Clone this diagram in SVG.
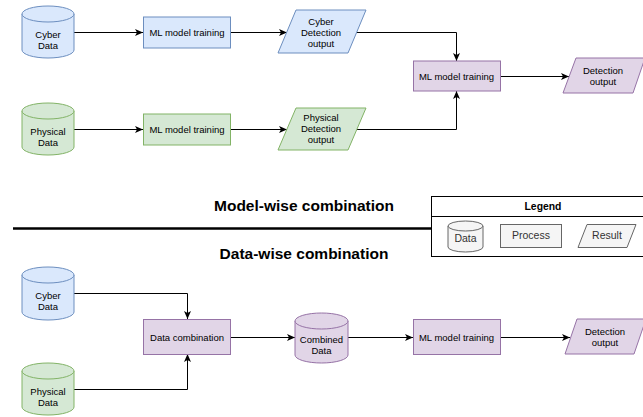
<svg xmlns="http://www.w3.org/2000/svg" width="643" height="417" viewBox="0 0 643 417">
<style>
  text { font-family: "Liberation Sans", Arial, sans-serif; font-size: 9.5px; fill: #000; text-anchor: middle; }
  .blue { fill: #dae8fc; stroke: #6c8ebf; stroke-width: 1; }
  .green { fill: #d5e8d4; stroke: #82b366; stroke-width: 1; }
  .purple { fill: #e1d5e7; stroke: #9673a6; stroke-width: 1; }
  .gray { fill: #f5f5f5; stroke: #666666; stroke-width: 1; }
  .edge { fill: none; stroke: #000; stroke-width: 1; marker-end: url(#arrow); }
  .title { font-size: 15.5px; font-weight: bold; }
  .leg { font-size: 10.5px; fill: #333333; }
  .legtitle { font-size: 10.4px; font-weight: bold; }
</style>
<defs>
  <marker id="arrow" markerUnits="userSpaceOnUse" markerWidth="9" markerHeight="8" refX="8" refY="4" orient="auto">
    <path d="M0,0.5 L8,4 L0,7.5 L2,4 Z" fill="#000"/>
  </marker>
</defs>

<g id="connectors">
  <path class="edge" d="M74,32.5 H143"/>
  <path class="edge" d="M231,32.5 H287"/>
  <path class="edge" d="M357,32.5 H456.5 V61"/>
  <path class="edge" d="M74,129.5 H143"/>
  <path class="edge" d="M231,129.5 H287"/>
  <path class="edge" d="M357,129.5 H456.5 V91"/>
  <path class="edge" d="M500,76.5 H569"/>
  <path class="edge" d="M74,293.5 H187.5 V319"/>
  <path class="edge" d="M74,389.5 H187.5 V354"/>
  <path class="edge" d="M231,337.5 H295"/>
  <path class="edge" d="M348,337.5 H413"/>
  <path class="edge" d="M500,337.5 H570"/>
</g>

<g id="cyber-data-top">
  <path class="blue" d="M22,14 A26,8 0 0 1 74,14 V50 A26,8 0 0 1 22,50 Z"/>
  <path class="blue" fill="none" d="M22,14 A26,8 0 0 0 74,14"/>
  <text x="48" y="37.5">Cyber</text>
  <text x="48" y="48.5">Data</text>
</g>
<g id="ml-cyber">
  <rect class="blue" x="143.5" y="17" width="87" height="31"/>
  <text x="187" y="36">ML model training</text>
</g>
<g id="cyber-detection">
  <polygon class="blue" points="296,10 366,10 348,53 278,53"/>
  <text x="321" y="24.5">Cyber</text>
  <text x="321" y="35.5">Detection</text>
  <text x="321" y="46.5">output</text>
</g>
<g id="physical-data-top">
  <path class="green" d="M22,111 A26,8 0 0 1 74,111 V147 A26,8 0 0 1 22,147 Z"/>
  <path class="green" fill="none" d="M22,111 A26,8 0 0 0 74,111"/>
  <text x="48" y="134.5">Physical</text>
  <text x="48" y="145.5">Data</text>
</g>
<g id="ml-physical">
  <rect class="green" x="143.5" y="114" width="87" height="31"/>
  <text x="187" y="133">ML model training</text>
</g>
<g id="physical-detection">
  <polygon class="green" points="296,108 366,108 348,150 278,150"/>
  <text x="321" y="120.5">Physical</text>
  <text x="321" y="131.5">Detection</text>
  <text x="321" y="142.5">output</text>
</g>
<g id="ml-combined-top">
  <rect class="purple" x="413.5" y="61" width="87" height="30"/>
  <text x="456.5" y="79.5">ML model training</text>
</g>
<g id="detection-output-top">
  <polygon class="purple" points="576,58 645,58 633,93 563,93"/>
  <text x="603" y="73.5">Detection</text>
  <text x="603" y="85">output</text>
</g>

<g id="model-wise-title">
  <text class="title" x="304" y="211">Model-wise combination</text>
</g>
<g id="separator">
  <line x1="13" y1="228.5" x2="431" y2="228.5" stroke="#000" stroke-width="2.5"/>
</g>
<g id="data-wise-title">
  <text class="title" x="304" y="259">Data-wise combination</text>
</g>

<g id="legend">
  <rect x="431.5" y="196.5" width="224" height="60" fill="#fff" stroke="#000" stroke-width="1"/>
  <line x1="431.5" y1="216.5" x2="655" y2="216.5" stroke="#000" stroke-width="1"/>
  <text class="legtitle" x="543" y="209.8">Legend</text>
  <path class="gray" d="M448,226 A17.5,5 0 0 1 483,226 V247 A17.5,5 0 0 1 448,247 Z"/>
  <path class="gray" fill="none" d="M448,226 A17.5,5 0 0 0 483,226"/>
  <text class="leg" x="465.5" y="242">Data</text>
  <rect class="gray" x="500.5" y="224.5" width="61" height="23"/>
  <text class="leg" x="531" y="239">Process</text>
  <polygon class="gray" points="587,224.5 636,224.5 627,247.5 578,247.5"/>
  <text class="leg" x="607" y="239">Result</text>
</g>

<g id="cyber-data-bottom">
  <path class="blue" d="M22,275 A26,8 0 0 1 74,275 V312 A26,8 0 0 1 22,312 Z"/>
  <path class="blue" fill="none" d="M22,275 A26,8 0 0 0 74,275"/>
  <text x="48" y="298.5">Cyber</text>
  <text x="48" y="309.5">Data</text>
</g>
<g id="physical-data-bottom">
  <path class="green" d="M22,371 A26,8 0 0 1 74,371 V407 A26,8 0 0 1 22,407 Z"/>
  <path class="green" fill="none" d="M22,371 A26,8 0 0 0 74,371"/>
  <text x="48" y="394.5">Physical</text>
  <text x="48" y="405.5">Data</text>
</g>
<g id="data-combination">
  <rect class="purple" x="143.5" y="319.5" width="87" height="35"/>
  <text x="187" y="341">Data combination</text>
</g>
<g id="combined-data">
  <path class="purple" d="M295,321 A26.5,8 0 0 1 348,321 V355 A26.5,8 0 0 1 295,355 Z"/>
  <path class="purple" fill="none" d="M295,321 A26.5,8 0 0 0 348,321"/>
  <text x="321.5" y="342.7">Combined</text>
  <text x="321.5" y="354">Data</text>
</g>
<g id="ml-bottom">
  <rect class="purple" x="413.5" y="319.5" width="87" height="35"/>
  <text x="456.5" y="341">ML model training</text>
</g>
<g id="detection-output-bottom">
  <polygon class="purple" points="577,319 646,319 634,354 565,354"/>
  <text x="605" y="334.5">Detection</text>
  <text x="605" y="345.5">output</text>
</g>
</svg>
